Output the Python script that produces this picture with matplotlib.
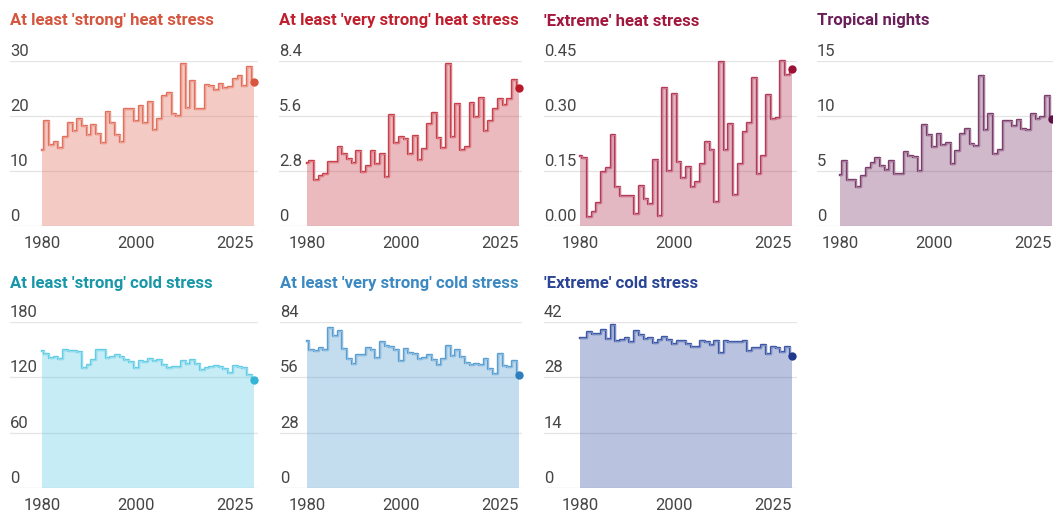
import numpy as np
import matplotlib.pyplot as plt
from matplotlib.colors import to_rgb

plt.rcParams['font.family'] = ['Roboto', 'DejaVu Sans']

years = list(range(1980, 2026))

titles = [
    "At least 'strong' heat stress",
    "At least 'very strong' heat stress",
    "'Extreme' heat stress",
    "Tropical nights",
    "At least 'strong' cold stress",
    "At least 'very strong' cold stress",
    "'Extreme' cold stress",
]

strong_heat = [13.9, 19.1, 14.7, 15.3, 14.1, 16.2, 18.8, 17.3, 19.4, 18.2,
               16.6, 18.4, 16.8, 15.1, 20.8, 18.8, 16.5, 15.2, 21.3, 21.3,
               19.1, 21.9, 18.8, 22.5, 17.5, 19.4, 23.6, 24.2, 20.3, 20.0,
               29.5, 21.5, 26.4, 21.3, 21.3, 25.7, 25.4, 24.8, 25.8, 25.1,
               25.2, 26.8, 27.3, 25.4, 28.9, 26.2]
very_strong_heat = [3.23, 3.29, 2.36, 2.55, 2.63, 3.24, 3.24, 4.02, 3.68, 3.40,
                    3.19, 3.82, 2.75, 3.06, 3.82, 3.17, 3.65, 2.50, 5.67, 4.23,
                    4.53, 4.45, 3.65, 4.60, 3.34, 3.94, 5.21, 5.76, 4.50, 3.99,
                    8.27, 4.53, 6.20, 3.85, 4.02, 6.28, 5.55, 6.52, 4.82, 5.35,
                    5.94, 6.49, 6.18, 6.47, 7.45, 7.05]
extreme_heat = [0.192, 0.186, 0.025, 0.037, 0.064, 0.147, 0.158, 0.248, 0.107, 0.082,
                0.082, 0.082, 0.034, 0.108, 0.074, 0.059, 0.181, 0.027, 0.377, 0.149,
                0.361, 0.175, 0.132, 0.161, 0.106, 0.120, 0.170, 0.229, 0.206, 0.065,
                0.446, 0.206, 0.279, 0.085, 0.168, 0.255, 0.282, 0.403, 0.141, 0.190,
                0.356, 0.292, 0.294, 0.449, 0.411, 0.429]
tropical_nights = [4.6, 5.9, 4.15, 4.15, 3.55, 4.5, 5.27, 5.76, 6.2, 5.45,
                   5.06, 5.9, 4.76, 4.7, 6.76, 6.36, 6.3, 5.0, 9.15, 8.3,
                   7.18, 8.4, 7.33, 7.58, 5.6, 6.82, 8.4, 8.85, 7.42, 7.27,
                   13.6, 8.76, 10.15, 6.58, 6.88, 9.5, 9.5, 9.1, 9.6, 8.85,
                   8.7, 10.15, 9.76, 9.9, 11.8, 9.76]
strong_cold = [148.2, 145.7, 141, 142, 139.9, 150, 148.2, 148.6, 147.5, 130.5,
               133, 139.2, 150, 150, 141, 142, 144.2, 142, 139.2, 137,
               130.5, 137.7, 136.3, 140.2, 137.3, 138.4, 133, 130.5, 131.2, 131.2,
               137.3, 134.8, 138.4, 134.8, 128.3, 130.1, 130.8, 132.7, 130.8, 128.7,
               125, 132.3, 131.6, 130.1, 122.5, 116.7]
very_strong_cold = [74.4, 70, 69.3, 71, 69.7, 81, 76.8, 79.5, 70.5, 65.1,
                    62.9, 67.5, 67.5, 71, 69.7, 66, 73.9, 71.7, 71.4, 70,
                    64.3, 70.5, 68.5, 68, 65.1, 66, 67.1, 64.6, 62.1, 65.1,
                    71.7, 66.8, 69.7, 66.3, 63.3, 62.1, 62.6, 62.1, 65.5, 60.1,
                    57.9, 68, 61.6, 61.2, 64.1, 57]
extreme_cold = [38, 38, 39.5, 39, 38.9, 39.9, 37.6, 41.2, 37.2, 37.5,
                38, 36.9, 39.7, 38.6, 37.8, 38, 36.7, 37.5, 38.2, 37.5,
                36.5, 37.2, 37.1, 36.5, 35.7, 35.7, 37.2, 36.9, 36.3, 37.1,
                34.2, 37.2, 36.9, 36.9, 36.9, 37.1, 34.7, 35.5, 35.5, 36.1,
                34, 35.7, 35.3, 34.4, 35.8, 33.4]

series = [strong_heat, very_strong_heat, extreme_heat, tropical_nights,
          strong_cold, very_strong_cold, extreme_cold]

y_ticks = [[0, 10, 20, 30], [0, 2.8, 5.6, 8.4], [0, 0.15, 0.30, 0.45], [0, 5, 10, 15],
           [0, 60, 120, 180], [0, 28, 56, 84], [0, 14, 28, 42]]
y_labels = [['0', '10', '20', '30'], ['0', '2.8', '5.6', '8.4'],
            ['0.00', '0.15', '0.30', '0.45'], ['0', '5', '10', '15'],
            ['0', '60', '120', '180'], ['0', '28', '56', '84'], ['0', '14', '28', '42']]
x_ticks = [1980, 2000, 2025]

title_colors = ['#d4563e', '#c0202e', '#a3173e', '#6b1f59', '#1797a8', '#3a89c2', '#2a4596']
line_colors = ['#e2705d', '#c9404c', '#b43a5a', '#7c3e6c', '#62cde4', '#5b9fd2', '#3d58a6']
dot_colors = ['#d9553f', '#b81a2a', '#9c1236', '#5e1248', '#35b5d5', '#2f7fbe', '#1f3a8c']

W, H = 1053, 511
# panel boxes in pixels: grid left, grid right, data left, data right, top grid, baseline, title y
boxes = [
    (10, 258, 42, 254, 61, 226, 21),
    (279, 522, 307, 519, 61, 226, 21),
    (544, 797, 580, 792, 61, 226, 21),
    (817, 1053, 840, 1052, 61, 226, 21),
    (10, 258, 42, 254, 322, 488, 283),
    (280, 522, 307, 519, 322, 488, 283),
    (544, 797, 580, 792, 322, 488, 283),
]

fig = plt.figure(figsize=(W / 100, H / 100), dpi=100)
fig.patch.set_facecolor('white')

for i, vals in enumerate(series):
    gl, gr, dl, dr, top, base, ty = boxes[i]
    ax = fig.add_axes([gl / W, 1 - base / H, (gr - gl) / W, (base - top) / H])
    ax.patch.set_alpha(0)
    for s in ax.spines.values():
        s.set_visible(False)
    ax.set_xticks([])
    ax.set_yticks([])

    scale = (dr - dl) / (years[-1] - years[0])
    xmin = years[0] - (dl - gl) / scale
    xmax = years[-1] + (gr - dr) / scale
    ax.set_xlim(xmin, xmax)
    ax.set_ylim(0, y_ticks[i][-1])

    for v, lbl in zip(y_ticks[i], y_labels[i]):
        ax.axhline(v, color='#d4d4d4' if v == 0 else '#e4e4e4', lw=0.9, zorder=1)
        ax.annotate(lbl, (xmin, v), xytext=(0, 3.5), textcoords='offset points',
                    ha='left', va='baseline', fontsize=12, color='#454545')

    c = np.array(to_rgb(line_colors[i]))
    inner = c * 0.5 + 0.5
    ax.fill_between(years, vals, step='mid', color=line_colors[i], alpha=0.36,
                    lw=0, zorder=2)
    ax.step(years, vals, where='mid', color=line_colors[i], lw=1.7, zorder=3,
            clip_on=False)
    ax.step(years, vals, where='mid', color=inner, lw=0.45, zorder=4, clip_on=False)
    ax.plot(years[-1], vals[-1], 'o', ms=6, color=dot_colors[i], mec='none',
            zorder=5, clip_on=False)

    for yr in x_ticks:
        ha = 'right' if yr == x_ticks[-1] else 'center'
        ax.annotate(str(yr), (yr, 0), xytext=(0, -12.5), textcoords='offset points',
                    ha=ha, va='center', fontsize=12, color='#454545')

    fig.text(gl / W, 1 - ty / H, titles[i], ha='left', va='center',
             fontsize=12, fontweight='bold', color=title_colors[i])

fig.savefig('out.png', dpi=100, facecolor='white')
